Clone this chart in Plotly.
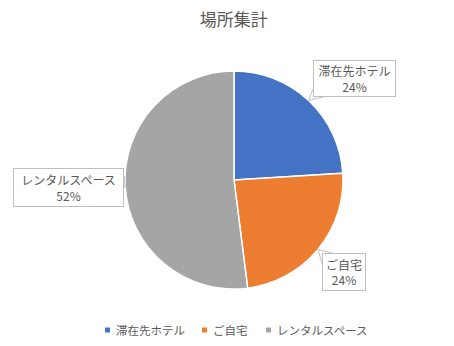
import math
import plotly.graph_objects as go

# ---- data ----
title = "場所集計"
labels = ["滞在先ホテル", "ご自宅", "レンタルスペース"]
values = [6, 6, 13]
colors = ["#4472C4", "#ED7D31", "#A5A5A5"]

W, H = 454, 346
cx, cy, R = 234, 180, 109  # pie centre / radius in px (layout)

# label boxes (px): x0, x1, y0, y1
boxes = {
    "滞在先ホテル": (313, 396, 60, 97),
    "ご自宅": (322, 366, 253, 291),
    "レンタルスペース": (13, 124, 168, 207),
}
# legend text start x (px) and row y
legend_x = [114, 211, 275]
legend_y = 330

def px(x):
    return x / W

def py(y):
    return 1 - y / H

fig = go.Figure(go.Pie(
    labels=labels, values=values, sort=False, direction="clockwise", rotation=0,
    marker=dict(colors=colors, line=dict(color="white", width=1.5)),
    textinfo="none", hoverinfo="label+percent", showlegend=False,
    domain=dict(x=[px(cx - R), px(cx + R)], y=[py(cy + R), py(cy - R)]),
))

total = sum(values)
cum = 0
shapes = []
annotations = []
for lab, v in zip(labels, values):
    mid = (cum + v / 2) / total * 2 * math.pi
    cum += v
    tipx = cx + R * math.sin(mid)
    tipy = cy - R * math.cos(mid)
    x0, x1, y0, y1 = boxes[lab]
    pct = round(v / total * 100)
    if lab == "滞在先ホテル":
        b1, b2 = (x0, y1 - 8), (x0 + 10, y1)
    elif lab == "ご自宅":
        b1, b2 = (x0, y0 + 10), (x0 + 10, y0)
    else:
        b1, b2 = (x1, y0 + 8), (x1, y0 + 20)
    path = "M {} {} L {} {} L {} {} Z".format(px(b1[0]), py(b1[1]), px(tipx), py(tipy), px(b2[0]), py(b2[1]))
    shapes.append(dict(type="path", xref="paper", yref="paper", path=path,
                       fillcolor="white", line=dict(color="#BFBFBF", width=1)))
    annotations.append(dict(
        xref="paper", yref="paper", x=px((x0 + x1) / 2), y=py((y0 + y1) / 2),
        xanchor="center", yanchor="middle", showarrow=False,
        text=f"{lab}<br>{pct}%", align="center",
        width=x1 - x0 - 4, height=y1 - y0 - 4, borderpad=1,
        bordercolor="#BFBFBF", borderwidth=1, bgcolor="white",
        font=dict(size=12, color="#595959", family="Noto Sans CJK JP"),
    ))

# legend drawn as squares + text
for lab, col, lx in zip(labels, colors, legend_x):
    shapes.append(dict(type="rect", xref="paper", yref="paper",
                       x0=px(lx - 9), x1=px(lx - 4), y0=py(legend_y + 2.5), y1=py(legend_y - 2.5),
                       fillcolor=col, line=dict(width=0)))
    annotations.append(dict(
        xref="paper", yref="paper", x=px(lx), y=py(legend_y), xanchor="left", yanchor="middle",
        showarrow=False, text=lab,
        font=dict(size=11.5, color="#595959", family="Noto Sans CJK JP"),
    ))

fig.update_layout(
    width=W, height=H, margin=dict(l=0, r=0, t=0, b=0),
    paper_bgcolor="white", plot_bgcolor="white",
    font=dict(family="Noto Sans CJK JP", color="#595959"),
    title=dict(text=title, x=0.515, xanchor="center", y=py(20), yanchor="middle",
               font=dict(size=17, color="#595959", family="Noto Sans CJK JP")),
    shapes=shapes, annotations=annotations, showlegend=False,
)

fig.write_html("out.html")
